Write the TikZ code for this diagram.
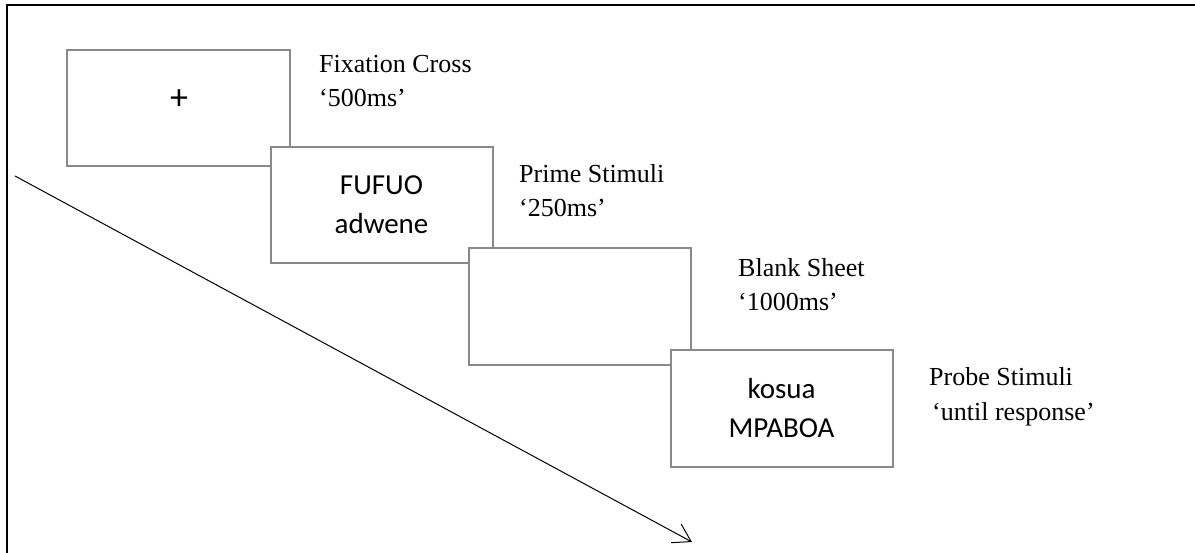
\documentclass[tikz,border=0pt]{standalone}
\usepackage{fontspec}
\setmainfont{Liberation Serif}
\newfontfamily\boxfont{Carlito}
\usetikzlibrary{arrows.meta}
\definecolor{boxgray}{RGB}{137,137,137}
\begin{document}
\begin{tikzpicture}[x=1bp,y=-1bp,
  stim/.style={draw=boxgray, line width=2bp, fill=white, minimum width=222bp,
    minimum height=116bp, inner sep=0pt, align=center,
    font=\boxfont\fontsize{29bp}{39bp}\selectfont},
  stimtext/.style={inner sep=0pt, font=\boxfont\fontsize{36bp}{40bp}\selectfont},
  lbl/.style={anchor=base west, inner sep=0pt, font=\fontsize{26bp}{34bp}\selectfont},
  frameline/.style={line width=2.5bp, black},
  timearrow/.style={line width=1bp, -{Straight Barb[length=17bp, width=21bp, line width=1bp]}}]
\useasboundingbox (0,0) rectangle (1195,553);
% frame
\draw[frameline] (7,553) -- (7,5) -- (1195,5);
% time arrow
\coordinate (as) at (15,176);
\coordinate (ae) at (692,542);
\draw[timearrow] (as) -- (ae);
% stimulus screens
\node[stim] (b1) at (178.5,108) {};
\node[stimtext] (plus) at (179,100) {+};
\node[stim] (b2) at (381.5,205) {FUFUO\\adwene};
\node[stim] (b3) at (580,306.5) {};
\node[stim] (b4) at (781.5,408.5) {kosua\\MPABOA};
% labels
\node[lbl] (l1a) at (319,73) {Fixation Cross};
\node[lbl] (l1b) at (319,107) {‘500ms’};
\node[lbl] (l2a) at (519,183) {Prime Stimuli};
\node[lbl] (l2b) at (519,217) {‘250ms’};
\node[lbl] (l3a) at (738,277) {Blank Sheet};
\node[lbl] (l3b) at (738,311) {‘1000ms’};
\node[lbl] (l4a) at (929,386) {Probe Stimuli};
\node[lbl] (l4b) at (932,420) {‘until response’};
\end{tikzpicture}
\end{document}
